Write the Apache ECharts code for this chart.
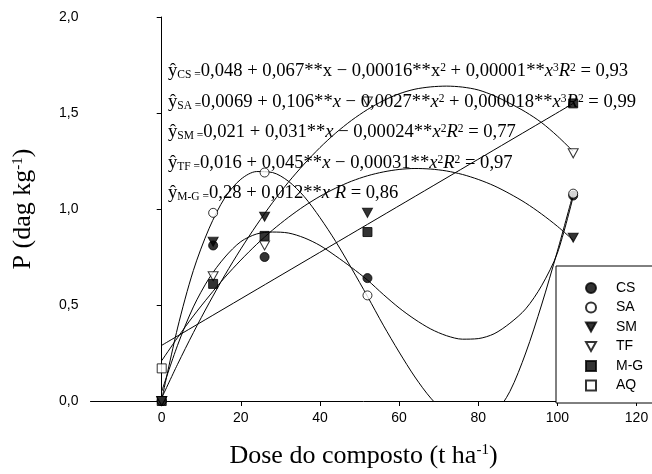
<!DOCTYPE html>
<html>
<head>
<meta charset="utf-8">
<script src="https://cdn.jsdelivr.net/npm/echarts@6/dist/echarts.min.js"></script>
<style>html,body{margin:0;padding:0;background:#fff}#c{width:652px;height:474px}</style>
</head>
<body>
<div id="c"></div>
<script>
// ---- data ----
const doses = [0, 13, 26, 52, 104];
const csVals = [0, 0.81, 0.75, 0.64, 1.07];
const saVals = [0, 0.98, 1.19, 0.55, 1.08];
const smVals = [0, 0.83, 0.96, 0.98, 0.85];
const tfVals = [0, 0.65, 0.81, 1.56, 1.29];
const mgVals = [0, 0.61, 0.86, 0.88, 1.55];
const aqDoses = [0];
const aqVals = [0.17];

// fitted curves: points, every 4 t/ha
const fitX = [0, 4, 8, 12, 16, 20, 24, 28, 32, 36, 40, 44, 48, 52, 56, 60, 64, 68, 72, 76, 80, 84, 88, 92, 96, 100, 104];
const csFitY = [0.05, 0.29, 0.49, 0.64, 0.75, 0.83, 0.87, 0.88, 0.875, 0.85, 0.81, 0.755, 0.695, 0.63, 0.555, 0.485, 0.425, 0.375, 0.34, 0.322, 0.325, 0.35, 0.405, 0.48, 0.6, 0.77, 1.065];
const saFitY = [0.007, 0.38, 0.68, 0.90, 1.06, 1.155, 1.195, 1.19, 1.145, 1.065, 0.955, 0.83, 0.69, 0.545, 0.395, 0.255, 0.125, 0.015, -0.065, -0.11, -0.12, -0.07, 0.05, 0.25, 0.5, 0.78, 1.08];
const smFitY = [0.21, 0.33, 0.443, 0.547, 0.645, 0.734, 0.816, 0.89, 0.956, 1.015, 1.066, 1.109, 1.145, 1.173, 1.193, 1.206, 1.211, 1.208, 1.198, 1.18, 1.154, 1.121, 1.079, 1.031, 0.974, 0.91, 0.838];
const tfFitY = [0.016, 0.191, 0.356, 0.511, 0.657, 0.792, 0.917, 1.033, 1.139, 1.234, 1.32, 1.396, 1.462, 1.518, 1.564, 1.6, 1.624, 1.636, 1.64, 1.635, 1.62, 1.59, 1.55, 1.505, 1.45, 1.38, 1.30];
const mgFitX = [0, 104];
const mgFitY = [0.29, 1.55];

const xTicks = [0, 20, 40, 60, 80, 100, 120];
const seriesNames = ['CS', 'SA', 'SM', 'TF', 'M-G', 'AQ'];

// ---- chart ----
const zip = (xs, ys) => xs.map((x, i) => [x, ys[i]]);
const triDown = 'path://M0,0 L10,0 L5,9 Z';
const filled = { color: '#000', borderColor: '#000', borderWidth: 1 };
const open = { color: '#fff', borderColor: '#000', borderWidth: 1 };

function scatter(name, xs, ys, symbol, size, style) {
  return { name, type: 'scatter', data: zip(xs, ys), symbol, symbolSize: size,
    itemStyle: style, z: 5, emphasis: { disabled: true } };
}
function fit(name, xs, ys) {
  return { name, type: 'line', data: zip(xs, ys), showSymbol: false, smooth: 0.3,
    lineStyle: { color: '#000', width: 1 }, itemStyle: { color: '#000' }, z: 3, clip: true,
    silent: true };
}

const serif = 'Liberation Serif';
const FS = 18.6;
const rich = {
  y: { fontFamily: serif, fontSize: FS, color: '#000' },
  sb: { fontFamily: serif, fontSize: 11.5, verticalAlign: 'bottom', color: '#000' },
  n: { fontFamily: serif, fontSize: FS, color: '#000' },
  i: { fontFamily: serif, fontSize: FS, fontStyle: 'italic', color: '#000' },
  sp: { fontFamily: serif, fontSize: 11.5, verticalAlign: 'top', color: '#000' }
};
const eqs = [
  '{y|ŷ}{sb|CS =}{n|0,048 + 0,067**x − 0,00016**x}{sp|2}{n| + 0,00001**}{i|x}{sp|3}{i|R}{sp|2}{n| = 0,93}',
  '{y|ŷ}{sb|SA =}{n|0,0069 + 0,106**}{i|x}{n| − 0,0027**}{i|x}{sp|2}{n| + 0,000018**}{i|x}{sp|3}{i|R}{sp|2}{n| = 0,99}',
  '{y|ŷ}{sb|SM =}{n|0,021 + 0,031**}{i|x}{n| − 0,00024**}{i|x}{sp|2}{i|R}{sp|2}{n| = 0,77}',
  '{y|ŷ}{sb|TF =}{n|0,016 + 0,045**}{i|x}{n| − 0,00031**}{i|x}{sp|2}{i|R}{sp|2}{n| = 0,97}',
  '{y|ŷ}{sb|M-G =}{n|0,28 + 0,012**}{i|x}{n| }{i|R}{n| = 0,86}'
];
const eqY = [71, 102, 132, 163, 193];

const graphics = eqs.map((t, k) => ({
  type: 'text', left: 168, top: eqY[k] - 9, z: 10,
  style: { text: t, rich, fill: '#000', font: FS + 'px "Liberation Serif"' }
}));
graphics.push({
  type: 'rect', shape: { x: 556, y: 266, width: 120, height: 137 }, z: 8,
  style: { fill: '#fff', stroke: '#000', lineWidth: 1 }
});

const chart = echarts.init(document.getElementById('c'), null, { renderer: 'canvas' });
chart.setOption({
  animation: false,
  backgroundColor: '#fff',
  grid: { left: 90.5, right: 15.5, top: 17, bottom: 64, containLabel: false },
  legend: {
    data: seriesNames, orient: 'vertical', left: 580, top: 276,
    itemWidth: 10, itemHeight: 10, itemGap: 5.5, z: 12,
    textStyle: { fontFamily: 'Liberation Sans', fontSize: 14, color: '#000', padding: [0, 0, 0, 15] },
    selectedMode: false
  },
  xAxis: {
    type: 'value', min: -18, max: 120,
    axisLine: { onZero: false, lineStyle: { color: '#000', width: 1 } },
    axisTick: { show: true, length: 5, customValues: xTicks, lineStyle: { color: '#000' } },
    axisLabel: { customValues: xTicks, color: '#000', fontFamily: 'Liberation Sans', fontSize: 14, margin: 10 },
    splitLine: { show: false },
    name: '{a|Dose do composto (t ha}{s|-1}{a|)}', nameLocation: 'middle', nameGap: 42,
    nameTextStyle: { rich: {
      a: { fontFamily: serif, fontSize: 26, color: '#000' },
      s: { fontFamily: serif, fontSize: 15, color: '#000', verticalAlign: 'top' } } }
  },
  yAxis: {
    type: 'value', min: 0, max: 2, interval: 0.5,
    axisLine: { show: true, lineStyle: { color: '#000', width: 1 } },
    axisTick: { show: true, length: 5, lineStyle: { color: '#000' } },
    axisLabel: { color: '#000', fontFamily: 'Liberation Sans', fontSize: 14, margin: 12,
      formatter: v => v.toFixed(1).replace('.', ',') },
    splitLine: { show: false },
    name: '{a|P (dag kg}{s|-1}{a|)}', nameLocation: 'middle', nameGap: 54,
    nameTextStyle: { rich: {
      a: { fontFamily: serif, fontSize: 26, color: '#000' },
      s: { fontFamily: serif, fontSize: 15, color: '#000', verticalAlign: 'top' } } }
  },
  graphic: graphics,
  series: [
    fit('CS fit', fitX, csFitY),
    fit('SA fit', fitX, saFitY),
    fit('SM fit', fitX, smFitY),
    fit('TF fit', fitX, tfFitY),
    fit('M-G fit', mgFitX, mgFitY),
    scatter('CS', doses, csVals, 'circle', 9, filled),
    scatter('SA', doses, saVals, 'circle', 9, open),
    scatter('SM', doses, smVals, triDown, [10, 9], filled),
    scatter('TF', doses, tfVals, triDown, [10, 9], open),
    scatter('M-G', doses, mgVals, 'rect', 9, filled),
    scatter('AQ', aqDoses, aqVals, 'rect', 9, open)
  ]
});
</script>
</body>
</html>
